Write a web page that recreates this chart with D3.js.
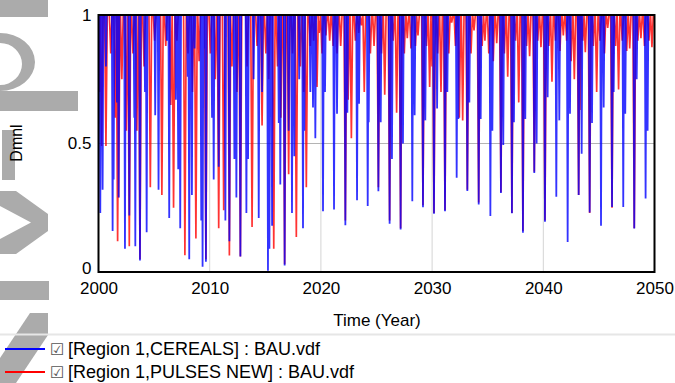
<!DOCTYPE html>
<html><head><meta charset="utf-8">
<script src="https://cdn.jsdelivr.net/npm/d3@7"></script>
<style>
html,body{margin:0;padding:0;background:#fff;}
svg{display:block;font-family:"Liberation Sans",Arial,sans-serif;}
</style></head>
<body><svg id="c" width="675" height="383"></svg>
<script>
// ---- data ----
const xTicks = [2000, 2010, 2020, 2030, 2040, 2050];
const yTicks = [0, 0.5, 1];
const yTickLabels = ["0", "0.5", "1"];
const seriesNames = ["[Region 1,CEREALS] : BAU.vdf", "[Region 1,PULSES NEW] : BAU.vdf"];

// CEREALS (blue): times of dips and the minimum value reached
const cerealDipYears = [
 2000.16,2000.37,2000.67,2001.27,2001.36,2001.66,2001.81,2002.38,2002.77,2003.22,2003.31,2003.73,
 2004.18,2004.33,2005.10,2005.40,2006.15,2006.36,2006.96,2007.17,2007.35,2008.02,2008.16,2008.40,
 2008.64,2009.24,2009.36,2009.54,2009.66,
 2010.21,2010.36,2010.81,2011.41,2011.77,2012.22,2012.40,2012.76,2013.30,2013.45,2013.95,2014.41,
 2014.71,2015.24,2015.37,2015.61,2016.21,2016.35,2016.74,2017.10,2017.40,2017.61,2018.05,2018.39,
 2018.51,2019.05,2019.29,2019.50,
 2020.19,2020.37,2021.18,2021.45,2022.20,2022.38,2023.25,2023.43,2024.21,2024.30,2025.17,2025.38,
 2026.18,2026.39,2027.17,2027.38,2028.22,2028.43,2029.18,2029.39,
 2030.17,2030.45,2031.16,2031.37,2032.21,2032.36,2033.17,2033.35,2034.19,2034.37,2035.24,2035.42,
 2036.19,2036.40,2037.18,2037.36,2038.17,2038.38,2039.19,2039.40,
 2040.15,2040.39,2041.17,2041.44,2042.19,2042.40,2043.18,2043.45,2044.17,2044.38,2045.19,2045.43,
 2046.18,2046.33,2047.19,2047.37,2048.18,2048.40,2049.20,2049.38
];
const cerealDipValues = [
 0.23,0.32,0.80,0.16,0.36,0.66,0.29,0.09,0.22,0.60,0.10,0.045,
 0.70,0.155,0.61,0.32,0.90,0.21,0.67,0.40,0.17,0.76,0.05,0.30,
 0.87,0.20,0.02,0.87,0.04,
 0.60,0.36,0.41,0.20,0.12,0.44,0.29,0.06,0.23,0.44,0.75,0.21,
 0.70,0.005,0.09,0.18,0.58,0.34,0.025,0.55,0.23,0.45,0.75,0.17,
 0.55,0.70,0.64,0.52,
 0.236,0.70,0.243,0.616,0.182,0.62,0.279,0.655,0.257,0.583,0.314,0.583,
 0.188,0.44,0.165,0.50,0.275,0.61,0.252,0.59,
 0.227,0.636,0.236,0.70,0.367,0.595,0.315,0.66,0.263,0.595,0.218,0.55,
 0.307,0.494,0.229,0.583,0.153,0.595,0.385,0.50,
 0.196,0.68,0.293,0.59,0.117,0.616,0.30,0.46,0.232,0.58,0.18,0.64,
 0.253,0.70,0.253,0.616,0.169,0.75,0.286,0.55
];

// PULSES NEW (red)
const pulseDipYears = [
 2000.10,2000.28,2000.67,2001.10,2001.50,2001.72,2001.81,2002.10,2002.50,2002.77,2003.10,2003.45,
 2003.73,2004.10,2004.66,2005.05,2005.70,2006.05,2006.50,2006.75,2007.05,2007.77,2008.05,2008.45,
 2008.76,2009.05,2009.66,
 2010.06,2010.50,2010.81,2011.26,2011.77,2012.00,2012.45,2012.76,2013.36,2013.81,2014.26,2014.71,
 2015.05,2015.31,2015.76,2016.10,2016.40,2016.74,2017.10,2017.45,2017.79,2018.15,2018.45,2018.69,
 2019.05,2019.35,2019.65,2019.85,
 2020.10,2020.45,2020.79,2021.10,2021.45,2021.78,2022.20,2022.45,2022.74,2023.10,2023.40,2023.64,
 2023.90,2024.45,2024.78,2025.17,2025.45,2025.74,2026.18,2026.50,2026.81,2027.17,2027.50,2027.77,
 2028.10,2028.50,2028.73,2029.18,2029.50,2029.78,
 2030.00,2030.17,2030.50,2030.80,2031.16,2031.50,2031.76,2032.10,2032.45,2032.75,2033.17,2033.50,
 2033.77,2034.19,2034.50,2034.75,2035.10,2035.50,2035.81,2036.19,2036.50,2036.80,2037.18,2037.50,
 2037.79,2038.17,2038.50,2038.77,2039.19,2039.50,2039.79,
 2040.15,2040.50,2040.78,2041.10,2041.50,2041.80,2042.10,2042.50,2042.79,2043.18,2043.30,2043.55,
 2043.78,2044.17,2044.50,2044.80,2045.10,2045.50,2045.79,2046.18,2046.50,2046.77,2047.10,2047.50,
 2047.77,2048.18,2048.50,2048.78,2049.10,2049.50,2049.77
];
const pulseDipValues = [
 0.70,0.49,0.49,0.85,0.60,0.12,0.29,0.75,0.55,0.10,0.85,0.55,
 0.05,0.80,0.33,0.90,0.30,0.88,0.65,0.25,0.90,0.065,0.85,0.70,
 0.13,0.82,0.05,
 0.85,0.75,0.17,0.24,0.064,0.80,0.70,0.06,0.80,0.175,0.88,0.57,
 0.85,0.75,0.09,0.80,0.60,0.03,0.38,0.85,0.136,0.80,0.70,0.33,
 0.88,0.90,0.72,0.93,
 0.85,0.92,0.90,0.88,0.85,0.88,0.20,0.67,0.52,0.90,0.93,0.96,
 0.70,0.85,0.88,0.33,0.85,0.69,0.20,0.90,0.62,0.17,0.85,0.91,
 0.87,0.88,0.92,0.26,0.88,0.72,
 0.80,0.23,0.85,0.70,0.24,0.85,0.97,0.88,0.60,0.59,0.32,0.85,
 0.94,0.27,0.88,0.90,0.85,0.82,0.89,0.31,0.85,0.76,0.23,0.90,
 0.66,0.16,0.88,0.84,0.39,0.90,0.875,
 0.20,0.88,0.74,0.90,0.86,0.92,0.90,0.82,0.75,0.30,0.63,0.90,
 0.855,0.23,0.88,0.70,0.90,0.85,0.95,0.25,0.88,0.71,0.90,0.86,
 0.87,0.17,0.90,0.91,0.88,0.90,0.875
];

// ---- drawing ----
const svg = d3.select("#c");
const W = 675, H = 383;
const x = d3.scaleLinear().domain([2000, 2050]).range([98.5, 654.5]);
const y = d3.scaleLinear().domain([0, 1]).range([272, 15]);

// watermark (decorative gray shapes at left edge)
const wm = svg.append("g").attr("fill", "#ababab");
wm.append("rect").attr("x", 0).attr("y", 0).attr("width", 48).attr("height", 17);
wm.append("path").attr("fill-rule", "evenodd")
  .attr("d", "M0,33 A35,29 0 0 1 0,91 Z M0,43 A22,21 0 0 1 0,85 Z");
wm.append("rect").attr("x", 0).attr("y", 91).attr("width", 78).attr("height", 20);
wm.append("rect").attr("x", 2).attr("y", 130).attr("width", 13).attr("height", 50);
wm.append("path").attr("d", "M0,191 L16,191 L48,214 L48,231 L16,254 L0,254 L0,239 L31,222.5 L0,206 Z");
wm.append("rect").attr("x", 0).attr("y", 281).attr("width", 49).attr("height", 19);
wm.append("path").attr("d", "M30,313 L48,313 L48,335 L16,383 L0,383 L0,358 Z");

// grid
const g = svg.append("g");
g.selectAll("line.vg").data(xTicks.slice(1, -1)).join("line")
  .attr("x1", d => x(d)).attr("x2", d => x(d)).attr("y1", y(1)).attr("y2", y(0))
  .attr("stroke", "#d4d4d4").attr("stroke-width", 1);
g.append("line").attr("x1", x(2000)).attr("x2", x(2050)).attr("y1", y(0.5)).attr("y2", y(0.5))
  .attr("stroke", "#b4b4b4").attr("stroke-width", 1);

// series
function buildSeries(ts, vs, h) {
  const idx = d3.range(ts.length).sort((a, b) => ts[a] - ts[b]);
  const pts = [[2000, 1]];
  idx.forEach(i => { pts.push([ts[i] - h, 1], [ts[i], vs[i]], [ts[i] + h, 1]); });
  pts.push([2050, 1]);
  return pts;
}
svg.append("clipPath").attr("id", "clip").append("rect")
  .attr("x", x(2000)).attr("y", y(1) - 1).attr("width", x(2050) - x(2000)).attr("height", y(0) - y(1) + 1);
const line = d3.line().x(d => x(d[0])).y(d => y(d[1]));
const plot = svg.append("g").attr("clip-path", "url(#clip)");
plot.append("path").datum(buildSeries(pulseDipYears, pulseDipValues, 0.12))
  .attr("d", line).attr("fill", "none").attr("stroke", "#ff0000").attr("stroke-width", 1.7)
  .attr("stroke-opacity", 0.8).attr("stroke-linejoin", "miter");
plot.append("path").datum(buildSeries(cerealDipYears, cerealDipValues, 0.07))
  .attr("d", line).attr("fill", "none").attr("stroke", "#0000ff").attr("stroke-width", 1.8)
  .attr("stroke-opacity", 0.8).attr("stroke-linejoin", "miter");

// frame
svg.append("rect").attr("x", x(2000)).attr("y", y(1)).attr("width", x(2050) - x(2000)).attr("height", y(0) - y(1))
  .attr("fill", "none").attr("stroke", "#000").attr("stroke-width", 2);

// axes (labels only)
const xAxis = d3.axisBottom(x).tickValues(xTicks).tickFormat(d3.format("d")).tickSize(0).tickPadding(10);
const xa = svg.append("g").attr("transform", `translate(0,${y(0)})`).call(xAxis);
xa.select(".domain").remove();
xa.selectAll("text").attr("font-size", 17).attr("fill", "#000").attr("font-family", "Liberation Sans, Arial, sans-serif");
const yAxis = d3.axisLeft(y).tickValues(yTicks).tickFormat((d, i) => yTickLabels[i]).tickSize(0).tickPadding(7);
const ya = svg.append("g").attr("transform", `translate(${x(2000)},0)`).call(yAxis);
ya.select(".domain").remove();
ya.selectAll("text").attr("font-size", 17).attr("fill", "#000").attr("font-family", "Liberation Sans, Arial, sans-serif");
ya.selectAll(".tick").filter(d => d === 0).select("text").attr("dy", "0.1em");

// axis titles
svg.append("text").attr("transform", "translate(22,143) rotate(-90)").attr("text-anchor", "middle")
  .attr("font-size", 16).text("Dmnl");
svg.append("text").attr("x", 377).attr("y", 326).attr("text-anchor", "middle")
  .attr("font-size", 17).text("Time (Year)");

// legend
svg.append("line").attr("x1", 0).attr("x2", W).attr("y1", 334.5).attr("y2", 334.5)
  .attr("stroke", "#e6e6e6").attr("stroke-width", 2);
const colors = ["#0000ff", "#ff0000"];
seriesNames.forEach((name, i) => {
  const ly = 349 + i * 23;
  svg.append("line").attr("x1", 5).attr("x2", 45).attr("y1", ly).attr("y2", ly)
    .attr("stroke", colors[i]).attr("stroke-width", 2);
  svg.append("text").attr("x", 50).attr("y", ly + 6).attr("font-size", 16)
    .attr("font-family", "DejaVu Sans").attr("fill", "#555").text("\u2611");
  svg.append("text").attr("x", 68).attr("y", ly + 6).attr("font-size", 18).text(name);
});
</script></body></html>
